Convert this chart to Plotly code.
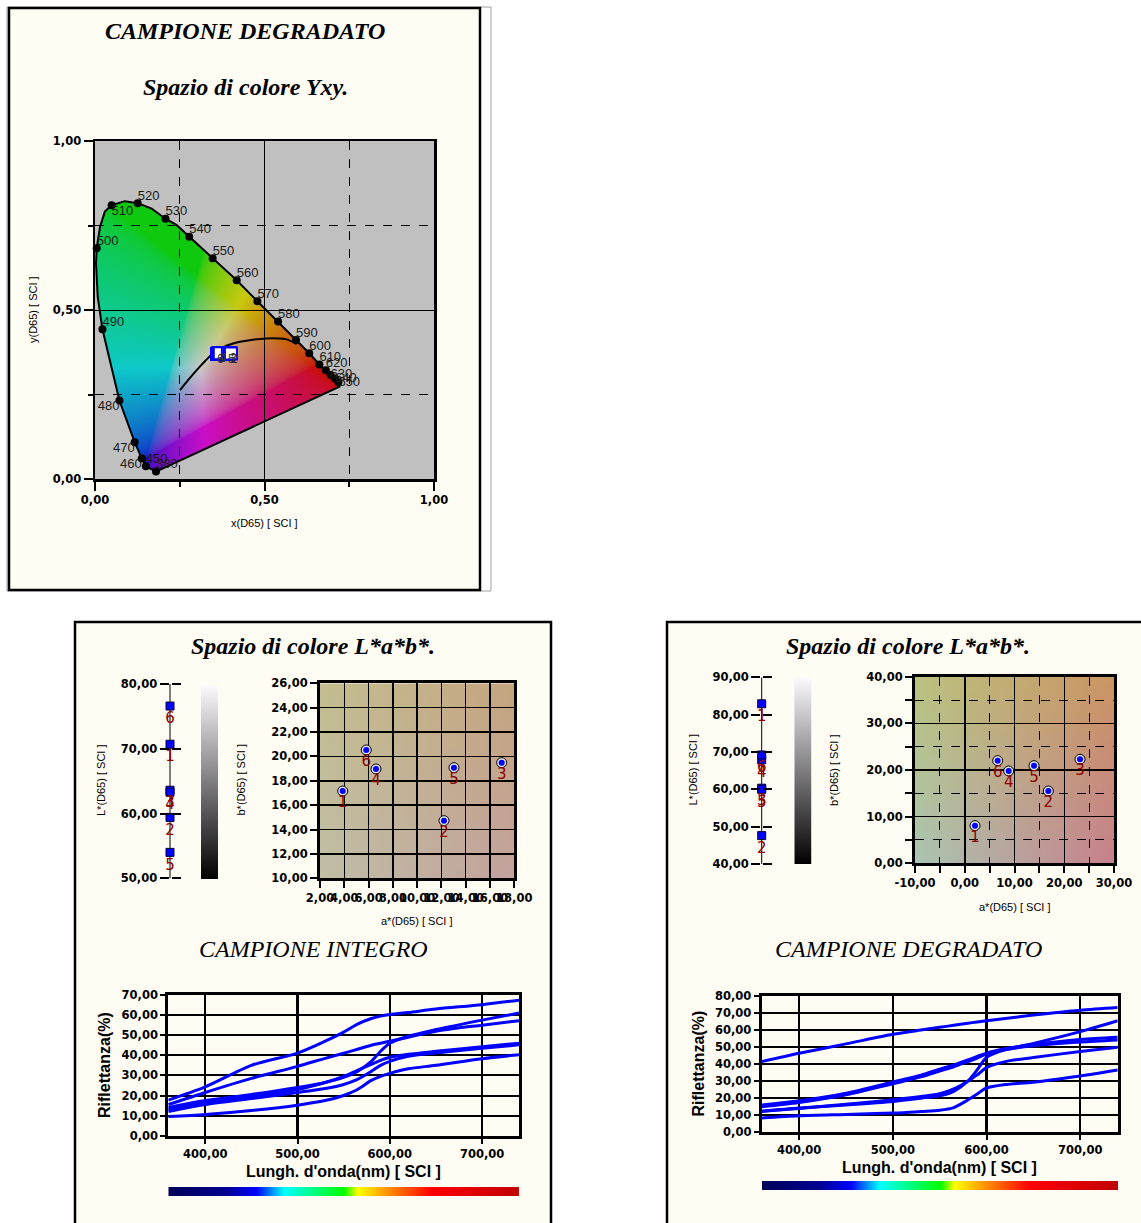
import base64, struct, zlib
import numpy as np
import plotly.graph_objects as go

W, H = 1141, 1223

# ======================= DATA =======================
# Spectral locus as drawn in the reference (labelled points)
locus_wl = ['380', '450', '460', '470', '480', '490', '500', '510', '520', '530', '540',
            '550', '560', '570', '580', '590', '600', '610', '620', '630', '640', '650']
locus_x = [0.180, 0.150, 0.138, 0.117, 0.072, 0.022, 0.005, 0.049, 0.126, 0.208, 0.278,
           0.347, 0.418, 0.479, 0.540, 0.593, 0.632, 0.662, 0.681, 0.695, 0.708, 0.718]
locus_y = [0.022, 0.038, 0.061, 0.109, 0.232, 0.443, 0.683, 0.810, 0.816, 0.770, 0.717,
           0.653, 0.588, 0.526, 0.466, 0.411, 0.372, 0.339, 0.322, 0.308, 0.297, 0.286]

# Boundary of the horseshoe (labelled points plus the bends between them)
outline_x = [0.180, 0.150, 0.138, 0.117, 0.072, 0.022, 0.008, 0.003, 0.005, 0.015, 0.029,
             0.049, 0.088, 0.126, 0.167, 0.208, 0.241, 0.278, 0.347, 0.418, 0.479, 0.540,
             0.593, 0.632, 0.662, 0.681, 0.695, 0.708, 0.718, 0.721, 0.180]
outline_y = [0.022, 0.038, 0.061, 0.109, 0.232, 0.443, 0.539, 0.638, 0.683, 0.746, 0.791,
             0.810, 0.822, 0.816, 0.800, 0.770, 0.751, 0.717, 0.653, 0.588, 0.526, 0.466,
             0.411, 0.372, 0.339, 0.322, 0.308, 0.297, 0.286, 0.273, 0.022]

# Planckian (black body) curve
planck_x = [0.251, 0.275, 0.300, 0.325, 0.349, 0.385, 0.428, 0.470, 0.506, 0.540, 0.565, 0.595]
planck_y = [0.263, 0.293, 0.322, 0.349, 0.372, 0.393, 0.406, 0.413, 0.416, 0.416, 0.413, 0.399]

# Sample chromaticities (degraded sample)
samp_id = ['6', '1', '4', '5', '3', '2']
samp_x = [0.360, 0.364, 0.368, 0.392, 0.398, 0.401]
samp_y = [0.370, 0.373, 0.372, 0.370, 0.373, 0.371]

# L*a*b* values
lab_id = ['1', '2', '3', '4', '5', '6']
int_L = [70.7, 59.4, 63.6, 63.3, 54.0, 76.6]
int_a = [3.87, 12.21, 16.96, 6.61, 13.03, 5.81]
int_b = [17.16, 14.73, 19.49, 18.97, 19.08, 20.53]
deg_L = [82.9, 47.6, 60.3, 67.9, 60.0, 69.2]
deg_a = [2.06, 16.80, 23.17, 8.83, 13.92, 6.62]
deg_b = [8.07, 15.50, 22.30, 19.79, 20.93, 22.00]

# L* axis ranges
int_L_range = [50, 80]
deg_L_range = [40, 90]

# a* tick labels of the degraded-sample plot (hyphen minus as in the reference)
deg_a_ticks = [-10, 0, 10, 20, 30]
deg_a_ticktext = ['-10,00', '0,00', '10,00', '20,00', '30,00']

# Reflectance curves (%)
refl_wl = [360, 400, 450, 500, 530, 550, 565, 580, 590, 600, 620, 650, 700, 740]
int_r1 = [17.7, 24.3, 35.0, 41.1, 47.0, 51.5, 55.5, 58.3, 59.5, 60.3, 61.3, 63.0, 65.2, 67.4]
int_r2 = [15.5, 21.5, 28.5, 34.5, 38.5, 41.0, 43.0, 45.0, 46.0, 47.0, 49.0, 52.0, 55.0, 57.2]
int_r3 = [14.0, 17.5, 20.5, 24.0, 26.5, 29.0, 32.0, 37.0, 42.0, 46.0, 49.5, 52.8, 57.5, 61.0]
int_r4 = [13.0, 16.5, 19.5, 23.0, 26.5, 29.5, 32.5, 35.5, 37.5, 39.0, 40.5, 42.0, 44.3, 46.0]
int_r5 = [12.0, 15.5, 18.5, 21.5, 23.5, 25.5, 28.0, 32.0, 35.0, 37.0, 39.5, 41.2, 43.5, 45.2]
int_r6 = [9.5, 10.5, 12.5, 15.2, 17.5, 20.0, 23.0, 27.5, 29.5, 31.0, 33.3, 35.0, 38.3, 40.3]

deg_r1 = [41.5, 46.4, 51.9, 57.5, 60.0, 61.6, 62.8, 64.0, 64.8, 65.5, 66.8, 68.8, 71.7, 73.3]
deg_r2 = [12.3, 14.2, 16.0, 18.1, 20.0, 21.4, 24.0, 30.0, 36.6, 44.0, 48.5, 52.2, 59.1, 65.5]
deg_r3 = [16.0, 18.5, 23.0, 29.5, 33.5, 37.0, 39.5, 42.5, 44.5, 46.5, 49.0, 51.5, 54.5, 55.8]
deg_r4 = [15.0, 17.5, 22.0, 28.5, 32.5, 36.0, 38.5, 41.5, 43.5, 46.0, 48.5, 50.8, 53.0, 54.2]
deg_r5 = [12.3, 14.0, 16.5, 19.1, 21.0, 22.6, 25.5, 30.0, 33.7, 38.0, 41.5, 43.9, 47.4, 49.9]
deg_r6 = [8.4, 9.7, 10.5, 11.3, 12.2, 12.9, 14.5, 19.0, 22.5, 26.0, 28.0, 29.4, 33.1, 36.6]

# ======================= helpers =======================
def fx(X):
    return X / W


def fy(Y):
    return 1 - Y / H


def png_uri(rgba):
    rgba = np.ascontiguousarray(rgba.astype(np.uint8))
    h, w, _ = rgba.shape
    raw = b''.join(b'\x00' + rgba[i].tobytes() for i in range(h))

    def chunk(t, d):
        c = struct.pack('>I', len(d)) + t + d
        return c + struct.pack('>I', zlib.crc32(t + d) & 0xffffffff)

    png = (b'\x89PNG\r\n\x1a\n' + chunk(b'IHDR', struct.pack('>IIBBBBB', w, h, 8, 6, 0, 0, 0))
           + chunk(b'IDAT', zlib.compress(raw, 9)) + chunk(b'IEND', b''))
    return 'data:image/png;base64,' + base64.b64encode(png).decode()


def inside_poly(px_, py_, vx, vy):
    res = np.zeros(px_.shape, bool)
    n = len(vx)
    j = n - 1
    for i in range(n):
        xi, yi, xj, yj = vx[i], vy[i], vx[j], vy[j]
        if yi != yj:
            cond = ((yi > py_) != (yj > py_)) & (px_ < (xj - xi) * (py_ - yi) / (yj - yi) + xi)
            res ^= cond
        j = i
    return res


def chroma_image(n=340):
    g = (np.arange(n) + 0.5) / n
    X, Y = np.meshgrid(g, 1 - g)
    ins = inside_poly(X, Y, outline_x, outline_y)
    yy = np.maximum(Y, 1e-3)
    Xc = X / yy
    Zc = (1 - X - Y) / yy
    r = 3.2406 * Xc - 1.5372 - 0.4986 * Zc
    gch = -0.9689 * Xc + 1.8758 + 0.0415 * Zc
    b = 0.0557 * Xc - 0.2040 + 1.0570 * Zc
    rgb = np.clip(np.stack([r, gch, b], -1), 0, None)
    rgb = rgb / np.maximum(rgb.max(-1, keepdims=True), 1e-9)
    rgb = np.where(rgb <= 0.0031308, 12.92 * rgb, 1.055 * rgb ** (1 / 2.4) - 0.055)
    rgb = rgb * 0.80 * 0.92 + 0.08 * 0.70
    img = np.zeros((n, n, 4))
    img[..., :3] = rgb * 255
    img[..., 3] = np.where(ins, 255, 0)
    return png_uri(img)


def grad_image(tl, tr, bl, br, n=32):
    t = np.linspace(0, 1, n)[:, None, None]
    s = np.linspace(0, 1, n)[None, :, None]
    tl, tr, bl, br = [np.array(c, float)[None, None, :] for c in (tl, tr, bl, br)]
    c = (1 - t) * ((1 - s) * tl + s * tr) + t * ((1 - s) * bl + s * br)
    img = np.zeros((n, n, 4))
    img[..., :3] = c
    img[..., 3] = 255
    return png_uri(img)


# ======================= styles =======================
CREAM = '#FFFCF3'
TICKF = dict(family='DejaVu Sans', size=11.5, color='black', weight='bold')
SMALLF = dict(family='Liberation Sans', size=11, color='black')
LABF = dict(family='DejaVu Sans', size=15, color='#8B0000')
BLUE = '#0000FF'

fig = go.Figure()

# ---------------- CIE diagram ----------------
fig.add_trace(go.Scatter(x=outline_x, y=outline_y, xaxis='x', yaxis='y', mode='lines',
                         line=dict(color='black', width=2), hoverinfo='skip', showlegend=False))
fig.add_trace(go.Scatter(x=planck_x, y=planck_y, xaxis='x', yaxis='y', mode='lines',
                         line=dict(color='black', width=2, shape='spline'),
                         hoverinfo='skip', showlegend=False))
locus_pos = ['top right', 'top right', 'bottom left', 'bottom left', 'bottom left', 'top right',
             'top right', 'bottom right', 'top right', 'top right', 'top right', 'top right',
             'top right', 'top right', 'top right', 'top right', 'top right', 'top right',
             'top right', 'middle right', 'middle right', 'middle right']
fig.add_trace(go.Scatter(x=locus_x, y=locus_y, xaxis='x', yaxis='y', mode='markers',
                         marker=dict(color='black', size=8), cliponaxis=False,
                         hoverinfo='skip', showlegend=False))
fig.add_trace(go.Scatter(x=locus_x, y=locus_y, xaxis='x', yaxis='y', mode='text',
                         text=locus_wl, textposition=locus_pos,
                         textfont=dict(family='Liberation Sans', size=13, color='#1a1a1a'),
                         cliponaxis=False, hoverinfo='skip', showlegend=False))
fig.add_trace(go.Scatter(x=samp_x, y=samp_y, xaxis='x', yaxis='y', mode='markers',
                         marker=dict(symbol='square', size=12, color='white',
                                     line=dict(color=BLUE, width=2)),
                         hoverinfo='skip', showlegend=False))
fig.add_trace(go.Scatter(x=samp_x, y=samp_y, xaxis='x', yaxis='y', mode='text',
                         text=samp_id, textposition='bottom right',
                         textfont=dict(family='Liberation Sans', size=12, color='#303030'),
                         hoverinfo='skip', showlegend=False))

# ---------------- L* axes (axis line under the markers) ----------------
for xa, ya, Ls, rng in (('x2', 'y2', int_L, int_L_range), ('x5', 'y5', deg_L, deg_L_range)):
    fig.add_trace(go.Scatter(x=[0, 0], y=rng, xaxis=xa, yaxis=ya, mode='lines',
                             line=dict(color='black', width=3.5), cliponaxis=False,
                             hoverinfo='skip', showlegend=False))
    fig.add_trace(go.Scatter(x=[0] * len(Ls), y=Ls, xaxis=xa, yaxis=ya, mode='markers+text',
                             text=lab_id, textposition='bottom center', textfont=LABF,
                             marker=dict(symbol='square', size=8, color=BLUE,
                                         line=dict(color='#000040', width=1)),
                             cliponaxis=False, hoverinfo='skip', showlegend=False))

# ---------------- gray b* bars ----------------
for xa, ya in (('x3', 'y3'), ('x6', 'y6')):
    fig.add_trace(go.Heatmap(x=[0, 1], y=[0, 1], z=[[0, 0], [1, 1]], xaxis=xa, yaxis=ya,
                             colorscale=[[0, '#000000'], [1, '#FAFAFF']], zsmooth='best',
                             showscale=False, hoverinfo='skip'))

# ---------------- a*b* plots ----------------
for xa, ya, A, B in (('x4', 'y4', int_a, int_b), ('x7', 'y7', deg_a, deg_b)):
    fig.add_trace(go.Scatter(x=A, y=B, xaxis=xa, yaxis=ya, mode='markers',
                             marker=dict(size=10, color='#E0E0E0', line=dict(color='black', width=1)),
                             hoverinfo='skip', showlegend=False))
    fig.add_trace(go.Scatter(x=A, y=B, xaxis=xa, yaxis=ya, mode='markers+text',
                             text=lab_id, textposition='bottom center', textfont=LABF,
                             marker=dict(size=6, color=BLUE), cliponaxis=False,
                             hoverinfo='skip', showlegend=False))

# ---------------- reflectance ----------------
for xa, ya, curves in (('x8', 'y8', [int_r1, int_r2, int_r3, int_r4, int_r5, int_r6]),
                       ('x9', 'y9', [deg_r1, deg_r2, deg_r3, deg_r4, deg_r5, deg_r6])):
    for c in curves:
        fig.add_trace(go.Scatter(x=refl_wl, y=c, xaxis=xa, yaxis=ya, mode='lines',
                                 line=dict(color=BLUE, width=3, shape='spline', smoothing=0.8),
                                 hoverinfo='skip', showlegend=False))

# ---------------- rainbow bars ----------------
rainbow = [[0, '#000058'], [0.16, '#000090'], [0.25, '#0000FF'], [0.33, '#00FFFF'],
           [0.50, '#00FF00'], [0.54, '#FFFF00'], [0.64, '#FF8000'], [0.75, '#FF0000'],
           [1.0, '#C00000']]
for xa, ya in (('x10', 'y10'), ('x11', 'y11')):
    fig.add_trace(go.Heatmap(x=refl_wl, y=[0, 1], z=[refl_wl, refl_wl], xaxis=xa, yaxis=ya,
                             colorscale=rainbow, zmin=360, zmax=740, zsmooth='best',
                             showscale=False, hoverinfo='skip'))

# ======================= axes =======================
def axis(dom, rng, anchor, **kw):
    d = dict(domain=dom, range=rng, anchor=anchor, showline=True, linecolor='black',
             linewidth=3, zeroline=False, ticks='outside', tickcolor='black', tickfont=TICKF,
             tickangle=0, tickformat='.2f', showgrid=False, fixedrange=True, automargin=False)
    d.update(kw)
    return d


def hid(dom, rng, anchor):
    return dict(domain=dom, range=rng, anchor=anchor, visible=False, fixedrange=True,
                automargin=False, showgrid=False, zeroline=False)


lay = {}
# CIE
cie_minor = dict(tickvals=[0.25, 0.75], showgrid=True, griddash='dash', gridcolor='black',
                 gridwidth=1, ticks='outside', ticklen=5, tickwidth=2, tickcolor='black')
lay['xaxis'] = axis([fx(95), fx(434)], [0, 1], 'y', tickvals=[0, 0.5, 1], mirror=True,
                    ticklen=9, tickwidth=2, showgrid=True, gridcolor='black', gridwidth=1,
                    minor=cie_minor, linewidth=2.5)
lay['yaxis'] = axis([fy(479), fy(141)], [0, 1], 'x', tickvals=[0, 0.5, 1], mirror=True,
                    ticklen=9, tickwidth=2, showgrid=True, gridcolor='black', gridwidth=1,
                    minor=cie_minor, linewidth=2.5)
# L* int
lay['xaxis2'] = hid([fx(169.5), fx(170.5)], [-1, 1], 'y2')
lay['yaxis2'] = axis([fy(878.3), fy(684)], int_L_range, 'x2', dtick=10, ticklen=9, tickwidth=2,
                     showline=False, mirror='ticks')
# gray int
lay['xaxis3'] = hid([fx(201), fx(218.3)], [0, 1], 'y3')
lay['yaxis3'] = hid([fy(879), fy(685)], [0, 1], 'x3')
# a*b* int
lay['xaxis4'] = axis([fx(320), fx(514.3)], [2, 18], 'y4', dtick=2, mirror=True, ticklen=7,
                     tickwidth=2, showgrid=True, gridcolor='black', gridwidth=1.5)
lay['yaxis4'] = axis([fy(878.3), fy(683.3)], [10, 26], 'x4', dtick=2, mirror=True, ticklen=7,
                     tickwidth=2, showgrid=True, gridcolor='black', gridwidth=1.5)
# L* deg
lay['xaxis5'] = hid([fx(761.2), fx(762.2)], [-1, 1], 'y5')
lay['yaxis5'] = axis([fy(864), fy(677.3)], deg_L_range, 'x5', dtick=10, ticklen=9, tickwidth=2,
                     showline=False, mirror='ticks')
# gray deg
lay['xaxis6'] = hid([fx(794.3), fx(811.7)], [0, 1], 'y6')
lay['yaxis6'] = hid([fy(864), fy(677.3)], [0, 1], 'x6')
# a*b* deg
ab_minor = dict(dtick=5, showgrid=True, griddash='dash', gridcolor='black', gridwidth=1,
                ticks='outside', ticklen=7, tickwidth=2, tickcolor='black')
lay['xaxis7'] = axis([fx(915), fx(1114)], [-10, 30], 'y7', tickvals=deg_a_ticks,
                     ticktext=deg_a_ticktext, mirror=True, ticklen=7, tickwidth=2,
                     showgrid=True, gridcolor='black', gridwidth=1.5, minor=ab_minor)
lay['yaxis7'] = axis([fy(863.3), fy(676.7)], [0, 40], 'x7', dtick=10, mirror=True, ticklen=7,
                     tickwidth=2, showgrid=True, gridcolor='black', gridwidth=1.5, minor=ab_minor)
# reflectance int
lay['xaxis8'] = axis([fx(168.3), fx(519)], [360, 740], 'y8', tickvals=[400, 500, 600, 700],
                     mirror=True, ticklen=5, tickwidth=2, showgrid=True, gridcolor='black',
                     gridwidth=2.5)
lay['yaxis8'] = axis([fy(1135.7), fy(995)], [0, 70], 'x8', dtick=10, mirror=True, ticklen=5,
                     tickwidth=2, showgrid=True, gridcolor='black', gridwidth=2)
# reflectance deg
lay['xaxis9'] = axis([fx(761.7), fx(1117.7)], [360, 740], 'y9', tickvals=[400, 500, 600, 700],
                     mirror=True, ticklen=5, tickwidth=2, showgrid=True, gridcolor='black',
                     gridwidth=2.5)
lay['yaxis9'] = axis([fy(1132.3), fy(996)], [0, 80], 'x9', dtick=10, mirror=True, ticklen=5,
                     tickwidth=2, showgrid=True, gridcolor='black', gridwidth=2)
# rainbow bars
lay['xaxis10'] = hid([fx(168.3), fx(519)], [360, 740], 'y10')
lay['yaxis10'] = hid([fy(1196), fy(1187)], [0, 1], 'x10')
lay['xaxis11'] = hid([fx(762), fx(1118)], [360, 740], 'y11')
lay['yaxis11'] = hid([fy(1190), fy(1181)], [0, 1], 'x11')

# ======================= shapes (panels) =======================
def prect(x0, y0, x1, y1, **kw):
    d = dict(type='rect', xref='paper', yref='paper', x0=fx(x0), x1=fx(x1), y0=fy(y1), y1=fy(y0),
             layer='below')
    d.update(kw)
    return d


shapes = [
    prect(7, 7, 491, 591, line=dict(color='#A0A0A0', width=1)),
    prect(9, 8, 480, 590, fillcolor=CREAM, line=dict(color='black', width=2.5)),
    prect(75, 622, 551, 1240, fillcolor=CREAM, line=dict(color='black', width=2.5)),
    prect(667, 622, 1160, 1240, fillcolor=CREAM, line=dict(color='black', width=2.5)),
    prect(95, 141, 434, 479, fillcolor='#C0C0C0', line=dict(width=0)),
]

# ======================= images =======================
images = [
    dict(source=chroma_image(), xref='x', yref='y', x=0, y=1, sizex=1, sizey=1,
         xanchor='left', yanchor='top', sizing='stretch', layer='below'),
    dict(source=grad_image((196, 190, 146), (197, 166, 128), (192, 190, 166), (196, 163, 158)),
         xref='x4', yref='y4', x=2, y=26, sizex=16, sizey=16, xanchor='left', yanchor='top',
         sizing='stretch', layer='below'),
    dict(source=grad_image((188, 194, 128), (203, 150, 100), (172, 197, 178), (200, 130, 142)),
         xref='x7', yref='y7', x=-10, y=40, sizex=40, sizey=40, xanchor='left', yanchor='top',
         sizing='stretch', layer='below'),
]

# ======================= annotations =======================
def ann(text, X, Y, font, angle=0):
    return dict(text=text, x=fx(X), y=fy(Y), xref='paper', yref='paper', showarrow=False,
                xanchor='center', yanchor='middle', font=font, textangle=angle)


TITLEF = dict(family='Liberation Serif', size=24, color='black')
BOLDF = dict(family='Liberation Sans', size=16, color='black', weight='bold')
annotations = [
    ann('<b><i>CAMPIONE DEGRADATO</i></b>', 245, 31, TITLEF),
    ann('<b><i>Spazio di colore Yxy.</i></b>', 245, 87, TITLEF),
    ann('x(D65) [ SCI ]', 264, 523, SMALLF),
    ann('y(D65) [ SCI ]', 33, 310, SMALLF, -90),
    ann('<b><i>Spazio di colore L*a*b*.</i></b>', 313, 646, TITLEF),
    ann('<b><i>Spazio di colore L*a*b*.</i></b>', 908, 646, TITLEF),
    ann('L*(D65) [ SCI ]', 101, 780, SMALLF, -90),
    ann('b*(D65) [ SCI ]', 240.5, 780, SMALLF, -90),
    ann('a*(D65) [ SCI ]', 417, 921, SMALLF),
    ann('L*(D65) [ SCI ]', 692.5, 770, SMALLF, -90),
    ann('b*(D65) [ SCI ]', 834, 770, SMALLF, -90),
    ann('a*(D65) [ SCI ]', 1015, 907, SMALLF),
    ann('<i>CAMPIONE INTEGRO</i>', 313, 949, TITLEF),
    ann('<i>CAMPIONE DEGRADATO</i>', 908, 949, TITLEF),
    ann('Riflettanza(%)', 104, 1065, BOLDF, -90),
    ann('Riflettanza(%)', 697.5, 1064, BOLDF, -90),
    ann("Lungh. d'onda(nm) [ SCI ]", 343, 1171, BOLDF),
    ann("Lungh. d'onda(nm) [ SCI ]", 939, 1167, BOLDF),
]

fig.update_layout(width=W, height=H, margin=dict(l=0, r=0, t=0, b=0, pad=0, autoexpand=False),
                  paper_bgcolor='white', plot_bgcolor='rgba(0,0,0,0)', separators=',.',
                  showlegend=False, shapes=shapes, images=images, annotations=annotations,
                  **lay)

fig.write_html('out.html', config={'displayModeBar': False, 'staticPlot': True},
               post_script="document.body.style.margin='0px';document.body.style.padding='0px';"
                           "document.documentElement.style.overflow='hidden';")
